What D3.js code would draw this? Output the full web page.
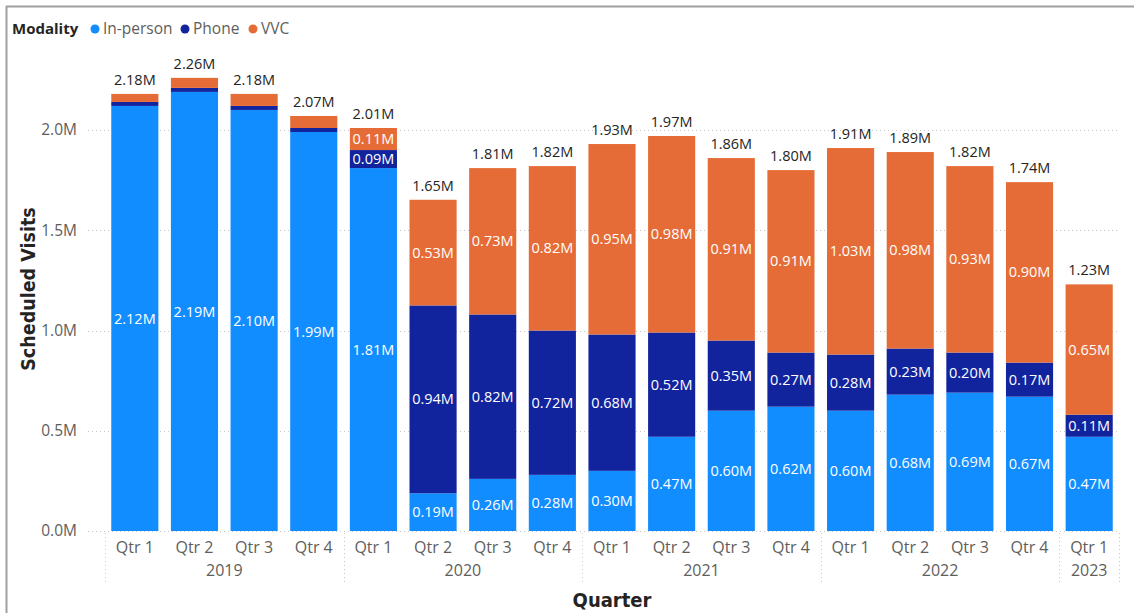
<!DOCTYPE html>
<html>
<head>
<meta charset="utf-8">
<script src="https://cdn.jsdelivr.net/npm/d3@7"></script>
<style>
  html, body { margin: 0; padding: 0; background: #fff; }
  svg { display: block; }
  text { font-family: "Open Sans", "Noto Sans", sans-serif; }
  .title { font-family: "DejaVu Sans Condensed", "DejaVu Sans", sans-serif; font-weight: bold; font-stretch: condensed; }
</style>
</head>
<body>
<svg id="chart" width="1134" height="613"></svg>
<script>
// Scheduled visits by quarter, in millions
const quarters = ["Qtr 1","Qtr 2","Qtr 3","Qtr 4","Qtr 1","Qtr 2","Qtr 3","Qtr 4","Qtr 1","Qtr 2","Qtr 3","Qtr 4","Qtr 1","Qtr 2","Qtr 3","Qtr 4","Qtr 1"];
const years = ["2019","2019","2019","2019","2020","2020","2020","2020","2021","2021","2021","2021","2022","2022","2022","2022","2023"];
const inPerson = [2.12, 2.19, 2.10, 1.99, 1.81, 0.188, 0.26, 0.28, 0.30, 0.47, 0.60, 0.62, 0.60, 0.68, 0.69, 0.67, 0.47];
const phone    = [0.02, 0.02, 0.02, 0.02, 0.09, 0.937, 0.82, 0.72, 0.68, 0.52, 0.35, 0.27, 0.28, 0.23, 0.20, 0.17, 0.11];
const vvc      = [0.04, 0.05, 0.06, 0.06, 0.11, 0.527, 0.73, 0.82, 0.95, 0.98, 0.91, 0.91, 1.03, 0.98, 0.93, 0.90, 0.65];
const yTicks = [0, 0.5, 1.0, 1.5, 2.0];

const seriesNames = ["In-person", "Phone", "VVC"];
const colors = { "In-person": "#118DFF", "Phone": "#12239E", "VVC": "#E66C37" };

const rows = quarters.map((q, i) => ({
  idx: i, quarter: q, year: years[i],
  "In-person": inPerson[i], "Phone": phone[i], "VVC": vvc[i]
}));

const svg = d3.select("#chart");
const fmt = v => d3.format(".2f")(v) + "M";
const fmtTick = v => d3.format(".1f")(v) + "M";

// frame lines
svg.append("line").attr("x1", 6).attr("x2", 1134).attr("y1", 6.5).attr("y2", 6.5)
  .attr("stroke", "#a0a0a0").attr("stroke-width", 2);
svg.append("line").attr("x1", 6.5).attr("x2", 6.5).attr("y1", 6).attr("y2", 613)
  .attr("stroke", "#a0a0a0").attr("stroke-width", 2);

const x = d3.scaleBand().domain(rows.map(d => d.idx)).range([105, 1119])
  .paddingInner(0.21).paddingOuter(0.105);
const y = d3.scaleLinear().domain([0, 2.0]).range([531, 130]);

// gridlines
svg.append("g").selectAll("line").data(yTicks).join("line")
  .attr("x1", 88).attr("x2", 1119)
  .attr("y1", d => Math.round(y(d)) + 0.5).attr("y2", d => Math.round(y(d)) + 0.5)
  .attr("stroke", "#c8c8c8").attr("stroke-width", 1).attr("stroke-dasharray", "1,3");

// y axis
const yAxis = svg.append("g").attr("transform", "translate(80,0)")
  .call(d3.axisLeft(y).tickValues(yTicks).tickFormat(fmtTick).tickSize(0).tickPadding(3));
yAxis.select(".domain").remove();
yAxis.selectAll("text").attr("font-size", 15.5).attr("fill", "#605E5C")
  .attr("font-family", "'Open Sans', sans-serif");

// stacked bars
const stack = d3.stack().keys(seriesNames);
const stacked = stack(rows);

const layers = svg.append("g").selectAll("g").data(stacked).join("g")
  .attr("fill", d => colors[d.key]);
layers.selectAll("rect").data(d => d).join("rect")
  .attr("x", d => x(d.data.idx))
  .attr("width", x.bandwidth())
  .attr("y", d => y(d[1]))
  .attr("height", d => y(d[0]) - y(d[1]));

// segment labels
const segLabels = svg.append("g");
stacked.forEach(layer => {
  layer.forEach(d => {
    const h = y(d[0]) - y(d[1]);
    if (h < 16) return;
    segLabels.append("text")
      .attr("x", x(d.data.idx) + x.bandwidth() / 2)
      .attr("y", (y(d[0]) + y(d[1])) / 2)
      .attr("dy", "0.35em")
      .attr("text-anchor", "middle")
      .attr("font-size", 14.5)
      .attr("fill", "#fff")
      .text(fmt(d.data[layer.key]));
  });
});

// totals
svg.append("g").selectAll("text").data(rows).join("text")
  .attr("x", d => x(d.idx) + x.bandwidth() / 2)
  .attr("y", d => y(d["In-person"] + d["Phone"] + d["VVC"]) - 9)
  .attr("text-anchor", "middle")
  .attr("font-size", 14.5)
  .attr("fill", "#252423")
  .text(d => fmt(d["In-person"] + d["Phone"] + d["VVC"]));

// x axis: quarter labels
svg.append("g").selectAll("text").data(rows).join("text")
  .attr("x", d => x(d.idx) + x.bandwidth() / 2)
  .attr("y", 547).attr("dy", "0.35em")
  .attr("text-anchor", "middle")
  .attr("font-size", 16).attr("fill", "#605E5C")
  .text(d => d.quarter);

// x axis: year groups
const groups = d3.groups(rows, d => d.year);
const gap = x.step() * x.paddingInner() / 2;
const sepXs = [x(0) - gap];
groups.forEach(([yr, items]) => {
  const first = items[0].idx, last = items[items.length - 1].idx;
  const left = x(first) - gap, right = x(last) + x.bandwidth() + gap;
  sepXs.push(right);
  svg.append("text")
    .attr("x", (left + right) / 2).attr("y", 570).attr("dy", "0.35em")
    .attr("text-anchor", "middle")
    .attr("font-size", 16).attr("fill", "#605E5C")
    .text(yr);
});
svg.append("g").selectAll("line").data(sepXs).join("line")
  .attr("x1", d => Math.round(d) + 0.5).attr("x2", d => Math.round(d) + 0.5)
  .attr("y1", 533).attr("y2", 582)
  .attr("stroke", "#c8c8c8").attr("stroke-dasharray", "1,3");

// axis titles
svg.append("text").attr("class", "title")
  .attr("transform", "translate(28,289) rotate(-90)")
  .attr("text-anchor", "middle").attr("dy", "0.35em")
  .attr("font-size", 19.5).attr("fill", "#252423")
  .text("Scheduled Visits");
svg.append("text").attr("class", "title")
  .attr("x", 612).attr("y", 600).attr("dy", "0.35em")
  .attr("text-anchor", "middle")
  .attr("font-size", 20).attr("fill", "#252423")
  .text("Quarter");

// legend
const legend = svg.append("g").attr("transform", "translate(12,29)");
legend.append("text").attr("x", 0).attr("dy", "0.35em")
  .attr("font-size", 15).attr("font-weight", "bold").attr("fill", "#252423")
  .text("Modality");
const legendItems = [{ c: 95, t: 103 }, { c: 185, t: 193 }, { c: 253, t: 261 }];
seriesNames.forEach((name, i) => {
  legend.append("circle").attr("cx", legendItems[i].c - 12).attr("cy", 0).attr("r", 4.5)
    .attr("fill", colors[name]);
  legend.append("text").attr("x", legendItems[i].t - 12).attr("dy", "0.35em")
    .attr("font-size", 15.5).attr("fill", "#605E5C").text(name);
});
</script>
</body>
</html>
